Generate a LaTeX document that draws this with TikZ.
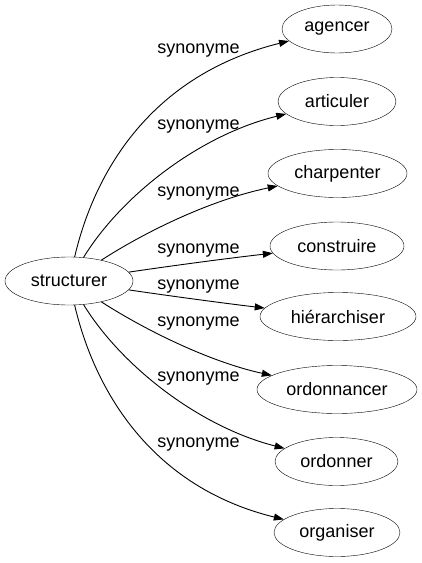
\documentclass[tikz,border=0pt]{standalone}
\usepackage{fontspec}
\setmainfont{Liberation Sans}
\usetikzlibrary{arrows.meta,shapes.geometric}
\begin{document}
\begin{tikzpicture}[x=1pt,y=-1pt,
  term/.style={draw,ellipse,inner sep=0pt,minimum height=48pt,font=\fontsize{18}{20}\selectfont},
  lbl/.style={inner sep=0pt,font=\fontsize{18}{20}\selectfont},
  link/.style={draw,line width=0.9pt,-{Triangle[length=10pt,width=7pt]}}]
\useasboundingbox (0,0) rectangle (422,563);
\node[term,minimum width=128pt] (s) at (69,281) {structurer};
\node[term,minimum width=110pt] (a1) at (337,29) {agencer};
\node[term,minimum width=118pt] (a2) at (337,101.5) {articuler};
\node[term,minimum width=139pt] (a3) at (337.5,173.5) {charpenter};
\node[term,minimum width=134pt] (a4) at (337,246) {construire};
\node[term,minimum width=156pt] (a5) at (338,316.5) {hiérarchiser};
\node[term,minimum width=160pt] (a6) at (337,389.5) {ordonnancer};
\node[term,minimum width=123pt] (a7) at (336.5,461.5) {ordonner};
\node[term,minimum width=126pt] (a8) at (337,532.5) {organiser};
\node[lbl] (l1) at (198.5,51) {synonyme};
\node[lbl] (l2) at (198.5,127) {synonyme};
\node[lbl] (l3) at (198.5,194) {synonyme};
\node[lbl] (l4) at (198.5,251) {synonyme};
\node[lbl] (l5) at (198.5,287) {synonyme};
\node[lbl] (l6) at (198.5,323.5) {synonyme};
\node[lbl] (l7) at (198.5,379) {synonyme};
\node[lbl] (l8) at (198.5,445) {synonyme};
\draw[link] (s) .. controls (95,170) and (152,75) .. (a1);
\draw[link] (s) .. controls (122,195) and (200,135) .. (a2);
\draw[link] (s) .. controls (145,232) and (210,200) .. (a3);
\draw[link] (s) .. controls (170,266) and (230,258) .. (a4);
\draw[link] (s) .. controls (170,296) and (230,304) .. (a5);
\draw[link] (s) .. controls (145,330) and (210,362) .. (a6);
\draw[link] (s) .. controls (122,367) and (200,427) .. (a7);
\draw[link] (s) .. controls (95,392) and (152,487) .. (a8);
\end{tikzpicture}
\end{document}
